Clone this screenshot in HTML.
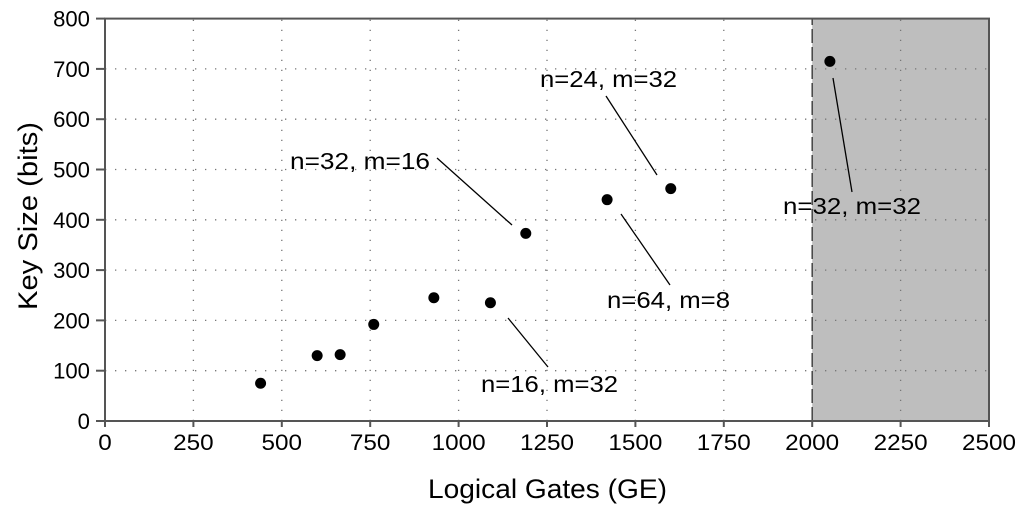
<!DOCTYPE html>
<html><head><meta charset="utf-8"><style>
body{margin:0;background:#fff;}
svg text{font-family:"Liberation Sans",Arial,sans-serif;fill:#000;}
</style></head><body>
<svg id="chart" width="1024" height="510"></svg>
<script>
const xs=[440,600,665,760,930,1090,1190,1420,1600,2050];
const ys=[75,130,132,192,245,235,373,440,462,715];
const xTicks=[0,250,500,750,1000,1250,1500,1750,2000,2250,2500];
const yTicks=[0,100,200,300,400,500,600,700,800];
const annLabels=["n=32, m=16","n=24, m=32","n=32, m=32","n=64, m=8","n=16, m=32"];
const annText=[[290,168,140],[540,86,137],[783,213,138],[607,307,123],[481,391,137]];
const annLines=[[437,158,512,225],[606,96,657,175],[833,78,852,192],[621,214,670,285],[508,318,548,367]];
const NS="http://www.w3.org/2000/svg";
const svg=document.getElementById('chart');
const X0=105,X1=989,Y0=421,Y1=18.6;
const sx=v=>X0+(v/2500)*(X1-X0);
const sy=v=>Y0-(v/800)*(Y0-Y1);
function mk(t,a){const e=document.createElementNS(NS,t);for(const k in a)e.setAttribute(k,a[k]);svg.appendChild(e);return e;}
let r=mk('rect',{x:sx(2000),y:Y1,width:X1-sx(2000),height:Y0-Y1,fill:'#bebebe'});


xTicks.forEach(v=>{if(v>0&&v<2500&&v!==2000){let l=mk('line',{x1:sx(v),x2:sx(v),y1:Y0,y2:Y1,stroke:'#777','stroke-width':1.3,'stroke-dasharray':'1.3 8.7'});

}
mk('line',{x1:sx(v),x2:sx(v),y1:Y0,y2:Y0+6,stroke:'#555','stroke-width':2});
const s=String(v);
let tx=mk('text',{x:sx(v),y:Y0+29,'font-size':22,'text-anchor':'middle',textLength:s.length*13.5,lengthAdjust:'spacingAndGlyphs'});tx.textContent=s;

});
yTicks.forEach(v=>{if(v>0&&v<800){let l=mk('line',{x1:X0,x2:X1,y1:sy(v),y2:sy(v),stroke:'#777','stroke-width':1.3,'stroke-dasharray':'1.3 8.7'});

}
mk('line',{x1:X0-9,x2:X0,y1:sy(v),y2:sy(v),stroke:'#555','stroke-width':2});
const s=String(v);
let tx=mk('text',{x:X0-15,y:sy(v)+8,'font-size':22,'text-anchor':'end',textLength:s.length*12.3,lengthAdjust:'spacingAndGlyphs'});tx.textContent=s;

});
let d=mk('line',{x1:sx(2000),x2:sx(2000),y1:Y0,y2:Y1,stroke:'#444','stroke-width':1.5,'stroke-dasharray':'14 4'});


let fr=mk('rect',{x:X0,y:Y1,width:X1-X0,height:Y0-Y1,fill:'none',stroke:'#555','stroke-width':2});


xs.forEach((v,i)=>{let c=mk('circle',{cx:sx(v),cy:sy(ys[i]),r:5.5,fill:'#000'});

});
annLabels.forEach((s,i)=>{const L=annLines[i];let l=mk('line',{x1:L[0],y1:L[1],x2:L[2],y2:L[3],stroke:'#000','stroke-width':1.3});


const T=annText[i];let t=mk('text',{x:T[0],y:T[1]+1,'font-size':23,textLength:T[2],lengthAdjust:'spacingAndGlyphs'});t.textContent=s;

});
let xl=mk('text',{x:428,y:498,'font-size':27,textLength:239,lengthAdjust:'spacingAndGlyphs'});xl.textContent='Logical Gates (GE)';


let yl=mk('text',{x:0,y:0,'font-size':27,'text-anchor':'middle',textLength:188,lengthAdjust:'spacingAndGlyphs',transform:'translate(37,216) rotate(-90)'});yl.textContent='Key Size (bits)';


</script>
</body></html>
